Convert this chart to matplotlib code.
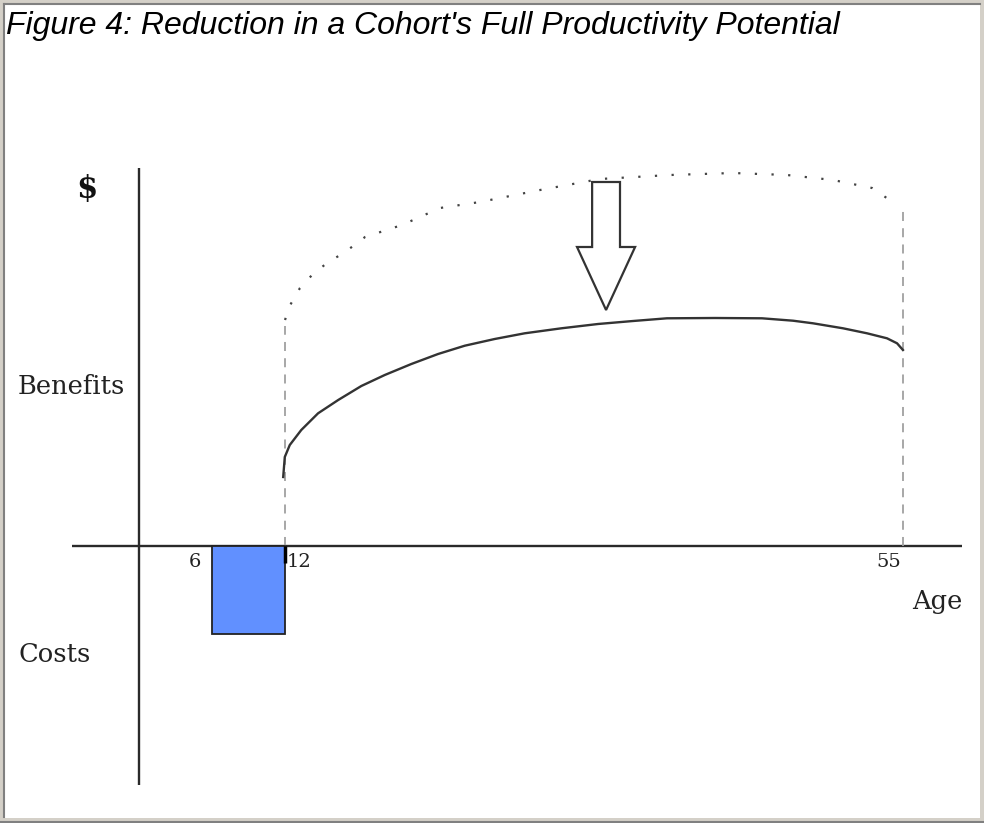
import numpy as np
import matplotlib
matplotlib.use("Agg")
import matplotlib.pyplot as plt
from matplotlib.patches import Rectangle, Polygon

# ---------------- data ----------------
title = "Figure 4: Reduction in a Cohort's Full Productivity Potential"

# cost period (school years)
cost_start_age = 6
cost_end_age = 12
cost_value = -8.8

# actual benefit curve (solid)
solid_ages = [11.85, 11.98, 12.33, 13.13, 14.30, 15.70, 17.31, 18.94, 20.79,
              22.65, 24.51, 26.59, 28.68, 31.23, 33.78, 36.22, 38.58, 41.92,
              45.19, 47.35, 48.74, 50.83, 52.50, 53.89, 54.59, 55.0]
solid_vals = [6.9, 8.9, 10.1, 11.6, 13.27, 14.6, 16.0, 17.1, 18.2,
              19.2, 20.03, 20.7, 21.27, 21.77, 22.2, 22.5, 22.77, 22.8,
              22.77, 22.53, 22.27, 21.77, 21.27, 20.77, 20.27, 19.6]

# full productivity potential (dotted)
full_ages = [12.0, 12.28, 13.04, 13.88, 14.92, 16.18, 17.57, 20.14, 22.79,
             25.57, 29.75, 33.92, 38.79, 43.18, 46.93, 50.13, 52.85, 54.38]
full_vals = [22.6, 23.9, 25.8, 27.1, 28.3, 29.4, 30.9, 32.1, 33.8,
             34.4, 35.6, 36.7, 37.1, 37.3, 37.1, 36.6, 35.8, 34.3]

# dashed drop lines
drop_ages = [12, 55]
drop_tops = [22.0, 33.6]

tick_ages = [6, 12, 55]
tick_labels = ["6", "12", "55"]

# reduction arrow (center age, top, shoulder, tip, half widths)
arrow_center = 34.34
arrow_top = 36.4
arrow_shoulder = 29.9
arrow_tip = 23.6
arrow_shaft_half = 0.97
arrow_head_half = 2.02

# ---------------- scale: schematic age axis ----------------
K = 14.37 / 12.17  # stretch beyond age 12


def fwd(x):
    x = np.asarray(x, dtype=float)
    return np.where(x <= 12, x, 12 + (x - 12) * K)


def inv(u):
    u = np.asarray(u, dtype=float)
    return np.where(u <= 12, u, 12 + (u - 12) / K)


W, H = 984, 823
fig = plt.figure(figsize=(W / 100, H / 100), dpi=100)
fig.patch.set_facecolor("#d4d0c8")


def fx(px):
    return px / W


def fy(py):
    return 1 - py / H

# window-like frame
fig.patches.append(Rectangle((fx(3), fy(818)), fx(977), 815 / H,
                             transform=fig.transFigure, facecolor="white",
                             edgecolor="none", zorder=-5))
fig.lines.append(plt.Line2D([fx(4), fx(4)], [fy(817), fy(4)],
                            transform=fig.transFigure, color="#808080", lw=1.5,
                            zorder=-4))
fig.lines.append(plt.Line2D([fx(4), fx(980)], [fy(4), fy(4)],
                            transform=fig.transFigure, color="#808080", lw=1.5,
                            zorder=-4))
fig.lines.append(plt.Line2D([fx(0), fx(984)], [fy(822), fy(822)],
                            transform=fig.transFigure, color="#808080", lw=1.5,
                            zorder=-4))

ax = fig.add_axes([0, 0, 1, 1], zorder=2)
ax.set_xscale("function", functions=(fwd, inv))
ax.set_xlim(-11.42, 60.64)
ax.set_ylim(-27.7, 54.6)
ax.axis("off")
ax.patch.set_alpha(0)

axis_color = "#2a2a2a"
# axes lines
ax.plot([-5.5, 59.1], [0, 0], color=axis_color, lw=1.7, solid_capstyle="butt")
ax.plot([0, 0], [-23.9, 37.8], color=axis_color, lw=1.7, solid_capstyle="butt")

# cost bar
ax.add_patch(Rectangle((cost_start_age, cost_value),
                       cost_end_age - cost_start_age, -cost_value,
                       facecolor="#6190ff", edgecolor="#222222", lw=1.3, zorder=3))
ax.plot([cost_end_age, cost_end_age], [0, -1.7], color="black", lw=2.5, zorder=4,
        solid_capstyle="butt")

# dashed drop lines
for a, t in zip(drop_ages, drop_tops):
    ax.plot([a, a], [0, t], color="#a0a0a0", lw=1.3, linestyle=(0, (5, 4)), zorder=2)

# full potential (dotted)
ax.plot(full_ages, full_vals, color="#444444", lw=1.6, linestyle=(0, (1, 6.5)),
        dash_capstyle="butt", zorder=2)

# actual benefits (solid)
ax.plot(solid_ages, solid_vals, color="#333333", lw=1.7, zorder=3,
        solid_joinstyle="round")

# reduction arrow
c = arrow_center
verts = [(c - arrow_shaft_half, arrow_top), (c + arrow_shaft_half, arrow_top),
         (c + arrow_shaft_half, arrow_shoulder), (c + arrow_head_half, arrow_shoulder),
         (c, arrow_tip), (c - arrow_head_half, arrow_shoulder),
         (c - arrow_shaft_half, arrow_shoulder)]
ax.add_patch(Polygon(verts, closed=True, facecolor="white", edgecolor="#333333",
                     lw=1.6, zorder=5, joinstyle="miter"))

# tick labels
serif = "DejaVu Serif"
offs = {"6": (-11, -7), "12": (2, -7), "55": (-2, -7)}
has = {"6": "right", "12": "left", "55": "right"}
for a, lab in zip(tick_ages, tick_labels):
    ax.annotate(lab, (a, 0), xytext=offs[lab], textcoords="offset pixels",
                ha=has[lab], va="top", fontsize=14, family=serif, color="#222222")

# axis words
fig.text(fx(87), fy(190), "$", ha="center", va="center", fontsize=22,
         family=serif, fontweight="bold", color="#111111")
fig.text(fx(18), fy(386), "Benefits", ha="left", va="center", fontsize=18.5,
         family=serif, color="#222222")
fig.text(fx(19), fy(654), "Costs", ha="left", va="center", fontsize=18.5,
         family=serif, color="#222222")
fig.text(fx(962), fy(601), "Age", ha="right", va="center", fontsize=18.5,
         family=serif, color="#222222")

fig.text(fx(6), fy(11), title, ha="left", va="top", fontsize=23,
         family="Liberation Sans", style="italic", color="black")

fig.savefig("out.png", dpi=100, facecolor=fig.get_facecolor())
